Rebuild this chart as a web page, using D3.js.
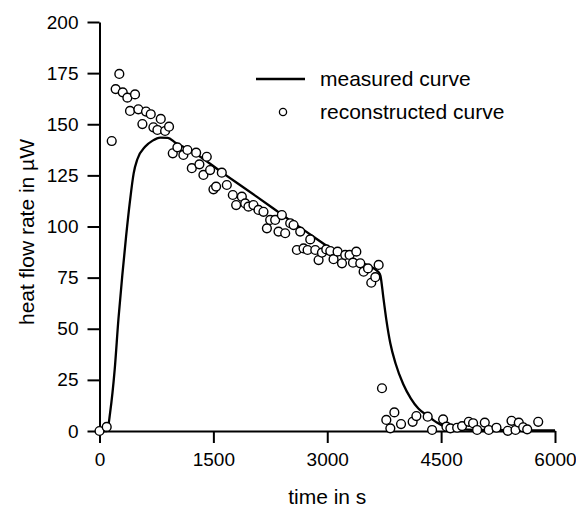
<!DOCTYPE html>
<html>
<head>
<meta charset="utf-8">
<script src="https://cdn.jsdelivr.net/npm/d3@7"></script>
<style>
  body { margin: 0; background: #fff; }
  #chart { width: 576px; height: 508px; }
  text { font-family: Arial, "Liberation Sans", sans-serif; fill: #000; }
</style>
</head>
<body>
<div id="chart"></div>
<script>
// measured curve (time in s, heat flow rate in µW)
const measuredTime = [0, 100, 140, 200, 250, 300, 350, 400, 450, 500, 600, 700, 800, 900, 1000,
  1200, 1630, 2070, 2510, 2820, 3080, 3520, 3675, 3700, 3740, 3780, 3830, 3900, 4000,
  4100, 4200, 4320, 4450, 4550, 4700, 5000, 6000];
const measuredValue = [0, 0, 9, 30, 55, 76, 95, 112, 126, 133, 139, 142, 143.5, 143.3, 141,
  137.2, 126, 114.6, 103, 95, 88.5, 81.2, 77.7, 76, 65, 54, 43, 33, 23,
  16, 11, 7.5, 4, 2, 1, 0.5, 0.3];

// reconstructed curve
const reconTime = [0, 95, 161, 213, 261, 306, 367, 402, 468, 512, 565, 613, 675, 710, 763, 807, 864, 916,
  965, 1026, 1105, 1158, 1216, 1273, 1316, 1369, 1413, 1457, 1501, 1536, 1611, 1677, 1756, 1800,
  1875, 1919, 1962, 2028, 2094, 2160, 2205, 2248, 2314, 2358, 2402, 2446, 2512, 2556, 2600, 2644,
  2688, 2741, 2776, 2842, 2886, 2930, 2987, 3040, 3083, 3136, 3194, 3237, 3294, 3339, 3383, 3435,
  3479, 3537, 3580, 3633, 3677, 3721, 3778, 3831, 3884, 3972, 4125, 4174, 4323, 4381, 4526, 4570,
  4622, 4711, 4776, 4864, 4921, 4974, 5075, 5127, 5229, 5378, 5427, 5480, 5523, 5581, 5634, 5779];
const reconValue = [0, 2, 141.8, 167.2, 174.6, 165.6, 163, 156.5, 164.6, 157.3, 150.1, 156.2, 154.9, 148.5, 147.2, 152.6, 146.7, 148.8,
  135.8, 138.7, 135, 137.4, 128.5, 136.1, 130.4, 125.2, 134.1, 127.6, 118.2, 119.5, 126.3, 120.3, 115.4, 110.5,
  114.6, 111.3, 109.7, 110.5, 108.1, 107.2, 99.1, 103.2, 103.2, 97.5, 105.6, 96.7, 101.6, 100.7, 88.5, 97.5,
  89.3, 88.5, 93.7, 88.5, 83.6, 87.2, 88.8, 88, 84, 87.7, 82, 86.1, 86.1, 82.3, 87.7, 82,
  77.9, 79.5, 72.5, 75.2, 81.2, 20.9, 5.4, 1.3, 9.1, 3.4, 4.5, 7.3, 7, 0.5, 5.7, 2.1,
  1.3, 1.6, 2.4, 4.5, 3.8, 0.5, 4.1, 0.5, 1.6, 0.1, 5, 0.5, 4.1, 1.8, 0.8, 4.5];

const xTicks = [0, 1500, 3000, 4500, 6000];
const yTicks = [0, 25, 50, 75, 100, 125, 150, 175, 200];
const legendLabels = ["measured curve", "reconstructed curve"];

const width = 576, height = 508;
const margin = { top: 22, right: 21, bottom: 77, left: 99.5 };
const font = "Arial, 'Liberation Sans', sans-serif";

const measured = measuredTime.map((t, i) => ({ t: t, v: measuredValue[i] }));
const recon = reconTime.map((t, i) => ({ t: t, v: reconValue[i] }));

const x = d3.scaleLinear()
  .domain([0, 6000])
  .range([margin.left, width - margin.right]);
const y = d3.scaleLinear()
  .domain([0, 200])
  .range([height - margin.bottom, margin.top]);

const svg = d3.select("#chart").append("svg")
  .attr("width", width)
  .attr("height", height)
  .attr("viewBox", `0 0 ${width} ${height}`);

let xAxis = g => g
  .attr("transform", `translate(0,${y(0)})`)
  .attr("font-family", font)
  .call(d3.axisBottom(x).tickValues(xTicks).tickFormat(d3.format("d"))
    .tickSize(12).tickPadding(10).tickSizeOuter(0))
  .call(g => g.selectAll("path, line").attr("stroke", "#000").attr("stroke-width", 2))
  .call(g => g.selectAll("text").attr("font-size", 19));

let yAxis = g => g
  .attr("transform", `translate(${x(0)},0)`)
  .attr("font-family", font)
  .call(d3.axisLeft(y).tickValues(yTicks).tickFormat(d3.format("d"))
    .tickSize(12).tickPadding(9).tickSizeOuter(0))
  .call(g => g.selectAll("path, line").attr("stroke", "#000").attr("stroke-width", 2))
  .call(g => g.selectAll("text").attr("font-size", 19));

svg.append("g").call(xAxis);
svg.append("g").call(yAxis);

let line = d3.line()
  .x(d => x(d.t))
  .y(d => y(d.v))
  .curve(d3.curveMonotoneX);

svg.append("path")
  .attr("d", line(measured))
  .attr("fill", "none")
  .attr("stroke", "#000")
  .attr("stroke-width", 2.3)
  .attr("stroke-linejoin", "round");

svg.append("g")
  .selectAll("circle")
  .data(recon)
  .join("circle")
  .attr("cx", d => x(d.t))
  .attr("cy", d => y(d.v))
  .attr("r", 4.4)
  .attr("fill", "#fff")
  .attr("stroke", "#000")
  .attr("stroke-width", 1.4);

// axis titles
svg.append("text")
  .attr("x", x(3000))
  .attr("y", 504)
  .attr("text-anchor", "middle")
  .attr("font-size", 21)
  .text("time in s");

svg.append("text")
  .attr("transform", `translate(34,232) rotate(-90)`)
  .attr("text-anchor", "middle")
  .attr("font-size", 21)
  .text("heat flow rate in µW");

// legend
const legend = svg.append("g");
legend.append("line")
  .attr("x1", 256).attr("x2", 305)
  .attr("y1", 79).attr("y2", 79)
  .attr("stroke", "#000")
  .attr("stroke-width", 2.3);
legend.append("circle")
  .attr("cx", 283).attr("cy", 112)
  .attr("r", 3.6)
  .attr("fill", "#fff")
  .attr("stroke", "#000")
  .attr("stroke-width", 1.3);
legend.selectAll("text")
  .data(legendLabels)
  .join("text")
  .attr("x", 320)
  .attr("y", (d, i) => 86 + i * 33)
  .attr("font-size", 21)
  .text(d => d);
</script>
</body>
</html>
